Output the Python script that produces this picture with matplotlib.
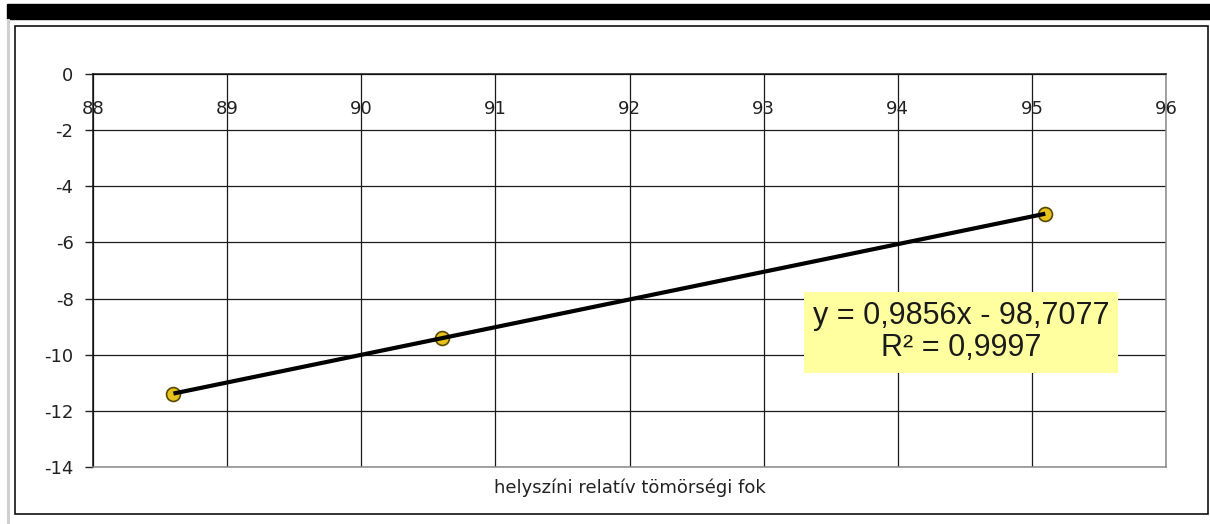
import numpy as np
import matplotlib.pyplot as plt
from matplotlib.patches import Rectangle
from matplotlib.lines import Line2D

plt.rcParams['font.family'] = ['DejaVu Sans']
plt.rcParams['axes.unicode_minus'] = False

# Data
density = [88.6, 90.6, 95.1]          # helyszíni relatív tömörségi fok
values = [-11.4, -9.4, -5.0]

# Trendline shown in the label
slope = 0.9856
intercept = -98.7077
r_squared = 0.9997

xticks = [88, 89, 90, 91, 92, 93, 94, 95, 96]
yticks = [0, -2, -4, -6, -8, -10, -12, -14]

W, H = 1210, 524
fig = plt.figure(figsize=(W / 100, H / 100), dpi=100)

# Black bar on top, light gray line on the left, chart frame
fig.patches.append(Rectangle((7 / W, 1 - 19 / H), 1 - 7 / W, 15 / H,
                             transform=fig.transFigure, color='black', zorder=0))
fig.lines.append(Line2D([8 / W, 8 / W], [0, 1 - 20 / H], transform=fig.transFigure,
                        color='#cfcfcf', lw=2.2))
fig.patches.append(Rectangle((15 / W, 1 - 514 / H), 1193 / W, 488 / H,
                             transform=fig.transFigure, fill=False,
                             edgecolor='#111111', lw=1.2))

ax = fig.add_axes([93 / W, 1 - 467 / H, 1073 / W, 393 / H])
ax.set_xlim(88, 96)
ax.set_ylim(-14, 0)

ax.set_xticks(xticks)
ax.set_yticks(yticks)
ax.set_yticklabels([str(v) for v in yticks])
ax.tick_params(axis='x', length=0, labelbottom=False)
ax.tick_params(axis='y', length=6, width=1, color='#222222', pad=8,
               labelsize=13, labelcolor='#222222')
ax.grid(True, color='#1a1a1a', lw=0.9)
ax.set_axisbelow(True)

for side in ['left', 'top']:
    ax.spines[side].set_color('#111111')
    ax.spines[side].set_linewidth(1.1)
for side in ['right', 'bottom']:
    ax.spines[side].set_color('#8a8a8a')
    ax.spines[side].set_linewidth(1.1)

# x tick labels sit just under the top (y = 0) axis line
for x in xticks:
    ax.text(x, -1.25, str(x), ha='center', va='center', fontsize=13,
            color='#222222')

ax.set_xlabel('helyszíni relatív tömörségi fok', fontsize=13,
              color='#222222', labelpad=8)

# Points and trendline (trendline on top of markers)
ax.plot(density, values, 'o', ms=10, mfc='#e6c21e', mec='#5a4a00',
        mew=1.2, zorder=3)
trend_x = np.array([min(density), max(density)])
ax.plot(trend_x, slope * trend_x + intercept, color='black', lw=3,
        solid_capstyle='butt', zorder=4)

eq = 'y = {:.4f}x - {:.4f}\nR² = {:.4f}'.format(slope, -intercept, r_squared)
eq = eq.replace('.', ',')
ax.text(0.809, 0.343, eq, transform=ax.transAxes, ha='center', va='center',
        fontsize=22, color='#1a1a1a', linespacing=1.1, zorder=5,
        family=['Liberation Sans', 'DejaVu Sans'],
        bbox=dict(boxstyle='square,pad=0.3', facecolor='#ffffa0',
                  edgecolor='none'))

fig.savefig('out.png', dpi=100)
